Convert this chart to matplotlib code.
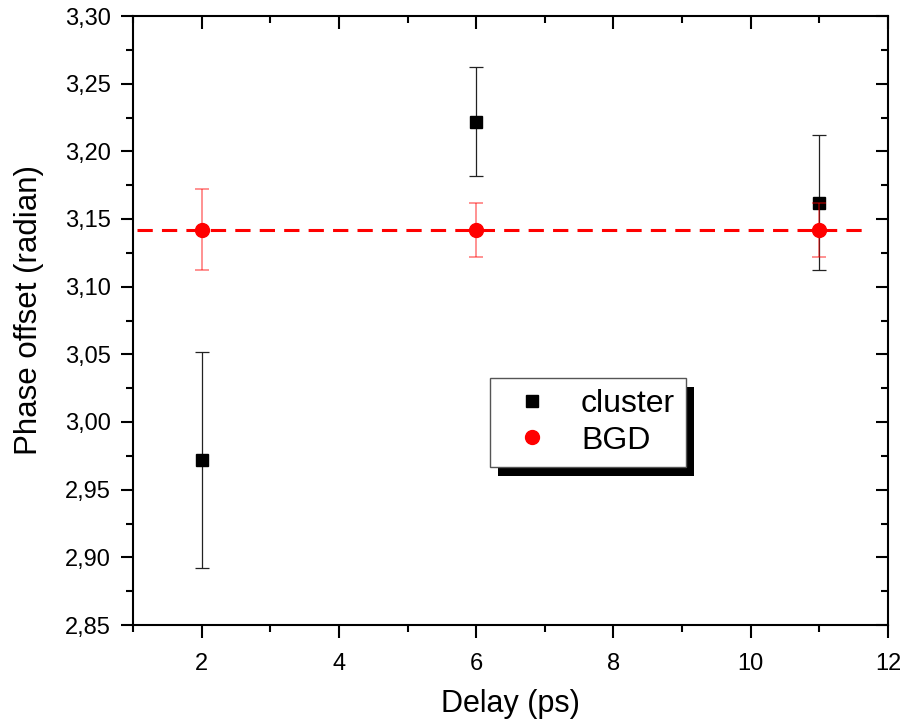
import numpy as np
import matplotlib
matplotlib.use("Agg")
import matplotlib.pyplot as plt
from matplotlib.ticker import FuncFormatter, MultipleLocator
from matplotlib.patches import Rectangle
from matplotlib.lines import Line2D

plt.rcParams["font.family"] = ["Liberation Sans", "DejaVu Sans"]

# data
delay = [2, 6, 11]
cluster = [2.972, 3.222, 3.162]
cluster_err = [0.080, 0.040, 0.050]
bgd = [3.142, 3.142, 3.142]
bgd_err = [0.030, 0.020, 0.020]
ref_line = np.pi

fig = plt.figure(figsize=(9.06, 7.24), dpi=100)
ax = fig.add_axes([133 / 906, 1 - 625 / 724, 755 / 906, 609 / 724])

ax.errorbar(delay, cluster, yerr=cluster_err, fmt="s", color="black", ms=8.5,
            ecolor="#222222", elinewidth=0.9, capsize=5, capthick=0.9, zorder=3)
ax.errorbar(delay, bgd, yerr=bgd_err, fmt="o", color="#ff0000", ms=10,
            ecolor=(1, 0, 0, 0.5), elinewidth=1.2, capsize=5, capthick=1.2, zorder=4)
ax.hlines(ref_line, 1.06, 11.72, colors="#ff0000", linestyles=(0, (5, 3.0)), lw=2.2, zorder=2)

ax.set_xlim(1, 12)
ax.set_ylim(2.85, 3.30)
ax.xaxis.set_major_locator(MultipleLocator(2))
ax.xaxis.set_minor_locator(MultipleLocator(1))
ax.yaxis.set_major_locator(MultipleLocator(0.05))
ax.yaxis.set_minor_locator(MultipleLocator(0.025))
ax.yaxis.set_major_formatter(FuncFormatter(lambda v, p: f"{v:.2f}".replace(".", ",")))

ax.tick_params(which="both", direction="out", width=1.5, labelsize=17)
ax.tick_params(which="major", length=9)
ax.tick_params(which="minor", length=5)
ax.tick_params(axis="x", which="major", pad=11)
ax.tick_params(axis="y", which="major", pad=7)
ax.tick_params(which="both", top=True, right=True)
for s in ax.spines.values():
    s.set_linewidth(1.5)
# top/right ticks point inward
for t in ax.xaxis.get_major_ticks() + ax.xaxis.get_minor_ticks():
    t.tick2line.set_marker(3)
for t in ax.yaxis.get_major_ticks() + ax.yaxis.get_minor_ticks():
    t.tick2line.set_marker(0)

ax.set_xlabel("Delay (ps)", fontsize=22, labelpad=10)
ax.set_ylabel("Phase offset (radian)", fontsize=22.5)
ax.yaxis.set_label_coords((44 - 133) / 755, (625 - 310) / 609)

handles = [Line2D([], [], ls="none", marker="s", color="black", ms=8.5),
           Line2D([], [], ls="none", marker="o", color="#ff0000", ms=10)]
leg = ax.legend(handles, ["cluster", "BGD"], loc="upper left",
                bbox_to_anchor=((490 - 133) / 755, (625 - 378) / 609),
                fontsize=23, frameon=True, fancybox=False, edgecolor="#555555",
                facecolor="white", framealpha=1, borderaxespad=0, handletextpad=0.6,
                borderpad=0.35, labelspacing=0.2, handlelength=1.9)
leg.get_frame().set_linewidth(1.0)
leg.set_zorder(6)

fig.canvas.draw()
bb = leg.get_window_extent().transformed(fig.transFigure.inverted())
dx, dy = 8 / 906, 9 / 724
shadow = Rectangle((bb.x0 + dx, bb.y0 - dy), bb.width, bb.height, transform=fig.transFigure,
                   facecolor="black", edgecolor="none", zorder=5)
ax.add_artist(shadow)
shadow.set_clip_on(False)

fig.savefig("out.png", dpi=100)
